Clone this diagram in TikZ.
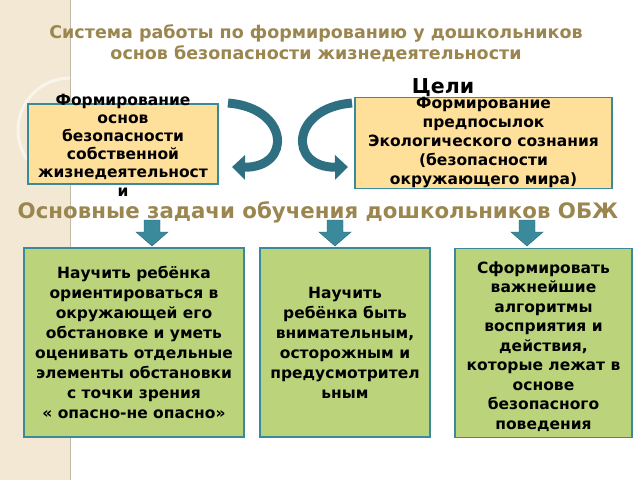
\documentclass[tikz,border=0pt]{standalone}
\usepackage{fontspec}
\setmainfont{DejaVu Sans}
\usetikzlibrary{arrows.meta}
\definecolor{gold}{HTML}{9B8650}
\definecolor{teal}{HTML}{3A8A9C}
\definecolor{tealdark}{HTML}{2E7082}
\definecolor{yel}{HTML}{FFE09A}
\definecolor{grn}{HTML}{BBD47C}
\definecolor{strip}{HTML}{F2E8D3}
\tikzset{
  ybox/.style={draw=teal,line width=1.2pt,fill=yel,align=center,font=\bfseries\fontsize{15.5}{19}\selectfont,inner sep=0pt},
  gbox/.style={draw=teal,line width=1.2pt,fill=grn,align=center,font=\bfseries\fontsize{15.5}{20}\selectfont,inner sep=0pt},
  curv/.style={tealdark,line width=9pt,-{Triangle[width=24pt,length=13pt]}},
  darr/.style={fill=teal,draw=teal!70!black,line width=0.4pt}
}
\begin{document}
\begin{tikzpicture}[x=1pt,y=-1pt]
\useasboundingbox (0,0) rectangle (640,480);
\fill[white] (0,0) rectangle (640,480);
\fill[strip] (0,0) rectangle (70,480);
\draw[white,line width=3pt,opacity=0.6] (70,130) circle (52);
\draw[strip!80!black,line width=0.6pt] (70,0) -- (70,480);

\node[text=gold,font=\bfseries\fontsize{17.5}{21}\selectfont,align=center] (title) at (316,43) {Система работы по формированию у дошкольников\\основ безопасности жизнедеятельности};
\node[font=\bfseries\fontsize{20.5}{22}\selectfont] (goals) at (443,88) {Цели};

\node[ybox,minimum width=190,minimum height=80] (lb) at (123,144) {};
\node[font=\bfseries\fontsize{15.5}{18.2}\selectfont,align=center] (lt) at (123,145) {Формирование\\основ\\безопасности\\собственной\\жизнедеятельност\\и};
\node[ybox,minimum width=257,minimum height=78] (rb) at (483.5,143) {Формирование\\предпосылок\\Экологического сознания\\(безопасности\\окружающего мира)};

\coordinate (la) at (228,103);
\coordinate (lz) at (232,167);
\coordinate (ra) at (352,103);
\coordinate (rz) at (348,167);
\draw[curv] (la) .. controls (290,108) and (292,168) .. (lz);
\draw[curv] (ra) .. controls (290,108) and (288,168) .. (rz);

\node[text=gold,font=\bfseries\fontsize{21.3}{24}\selectfont] (head) at (318,212) {Основные задачи обучения дошкольников ОБЖ};

\foreach \n/\x in {a1/152,a2/335,a3/527}{
  \fill[darr] (\x-8,220) -- (\x+8,220) -- (\x+8,232) -- (\x+16,232) -- (\x,246) -- (\x-16,232) -- (\x-8,232) -- cycle;
}

\node[gbox,minimum width=220,minimum height=189] (g1) at (134,342.5) {Научить ребёнка\\ориентироваться в\\окружающей его\\обстановке и уметь\\оценивать отдельные\\элементы обстановки\\с точки зрения\\« опасно-не опасно»};
\node[gbox,minimum width=170,minimum height=189] (g2) at (345,342.5) {Научить\\ребёнка быть\\внимательным,\\осторожным и\\предусмотрител\\ьным};
\node[gbox,minimum width=177,minimum height=189,anchor=north] (g3) at (543.5,248) {};
\node[font=\bfseries\fontsize{15.5}{19.5}\selectfont,align=center,anchor=north] (g3t) at (543.5,258) {Сформировать\\важнейшие\\алгоритмы\\восприятия и\\действия,\\которые лежат в\\основе\\безопасного\\поведения};
\end{tikzpicture}
\end{document}
